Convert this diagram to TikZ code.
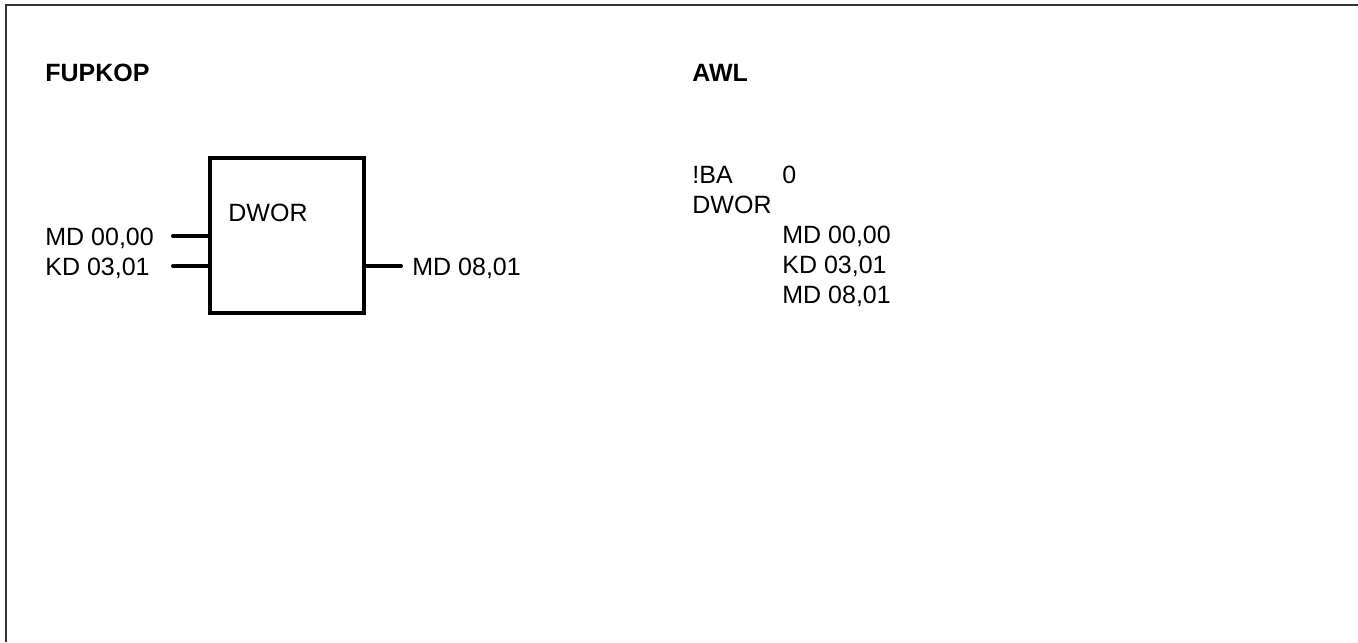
\documentclass[tikz,border=0pt]{standalone}
\usepackage{fontspec}
\setmainfont{Liberation Sans}
\tikzset{
  lbl/.style={anchor=base west, inner sep=0pt, font=\fontsize{12.5}{15}\selectfont},
  head/.style={lbl, font=\fontsize{12.5}{15}\selectfont\bfseries},
  wire/.style={line width=2pt, line cap=round},
}
\begin{document}
\begin{tikzpicture}[x=0.5pt, y=-0.5pt]
\useasboundingbox (0,0) rectangle (1358,642);
\draw[line width=1pt, black!80] (6,642) -- (6,5) -- (1358,5);
% headings
\node[head] (fup) at (45,82) {FUPKOP};
\node[head] (awl) at (692,82) {AWL};
% function block
\node[draw, line width=2pt, inner sep=0pt, minimum width=77pt, minimum height=77.5pt] (dwor) at (287,235.5) {};
\node[lbl] (dworlbl) at (228,221) {DWOR};
\node[lbl] (in1lbl) at (45,245) {MD 00,00};
\node[lbl] (in2lbl) at (45,275) {KD 03,01};
\node[lbl] (outlbl) at (412,275) {MD 08,01};
\coordinate (in1) at (173,236);
\coordinate (in2) at (173,266);
\coordinate (out) at (401,266);
\draw[wire] (in1) -- (in1 -| dwor.west);
\draw[wire] (in2) -- (in2 -| dwor.west);
\draw[wire] (out -| dwor.east) -- (out);
% statement list
\node[lbl] (ba) at (692,183) {!BA};
\node[lbl] (banum) at (782,183) {0};
\node[lbl] (awlop) at (692,213) {DWOR};
\node[lbl] (awlin1) at (782,243) {MD 00,00};
\node[lbl] (awlin2) at (782,273) {KD 03,01};
\node[lbl] (awlout) at (782,303) {MD 08,01};
\end{tikzpicture}
\end{document}
